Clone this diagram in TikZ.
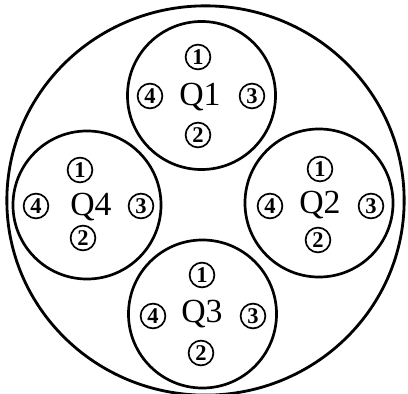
\documentclass[tikz,border=0pt]{standalone}
\usepackage{fontspec}
\setmainfont{Liberation Serif}
\usetikzlibrary{shapes.geometric}

\begin{document}
\begin{tikzpicture}[x=0.025cm, y=-0.025cm,
    rim/.style={draw, ellipse, line width=2pt, inner sep=0pt,
      minimum width=9.93cm, minimum height=9.73cm},
    quad/.style={draw, circle, line width=1.9pt, inner sep=0pt, minimum size=3.7cm},
    qtag/.style={font=\fontsize{24}{26}\selectfont, inner sep=0pt},
    num/.style={draw, circle, line width=1.2pt, inner sep=0pt, minimum size=0.62cm,
      font=\fontsize{16}{17}\selectfont\bfseries}]
\useasboundingbox (0,0) rectangle (408,394);
% --- outer ring ---
\node[rim] (rim) at (205.5,200.5) {};

% --- Q1 ---
\node[quad] (q1) at (201.5,95.5) {};
\node[qtag] (q1t) at (200,97) {Q1};
\node[num] (q1a) at (198,57) {1};
\node[num] (q1b) at (198,135) {2};
\node[num] (q1c) at (252,96) {3};
\node[num] (q1d) at (150,96) {4};

% --- Q2 ---
\node[quad] (q2) at (319,203) {};
\node[qtag] (q2t) at (320,205) {Q2};
\node[num] (q2a) at (320,169) {1};
\node[num] (q2b) at (318,240) {2};
\node[num] (q2c) at (371,206) {3};
\node[num] (q2d) at (270,206) {4};

% --- Q3 ---
\node[quad] (q3) at (202.5,314) {};
\node[qtag] (q3t) at (202,314) {Q3};
\node[num] (q3a) at (202,275) {1};
\node[num] (q3b) at (201,353) {2};
\node[num] (q3c) at (253,316) {3};
\node[num] (q3d) at (153,316) {4};

% --- Q4 ---
\node[quad] (q4) at (87,205) {};
\node[qtag] (q4t) at (91,207) {Q4};
\node[num] (q4a) at (80,170) {1};
\node[num] (q4b) at (83,238) {2};
\node[num] (q4c) at (141,206) {3};
\node[num] (q4d) at (36,206) {4};
\end{tikzpicture}
\end{document}
